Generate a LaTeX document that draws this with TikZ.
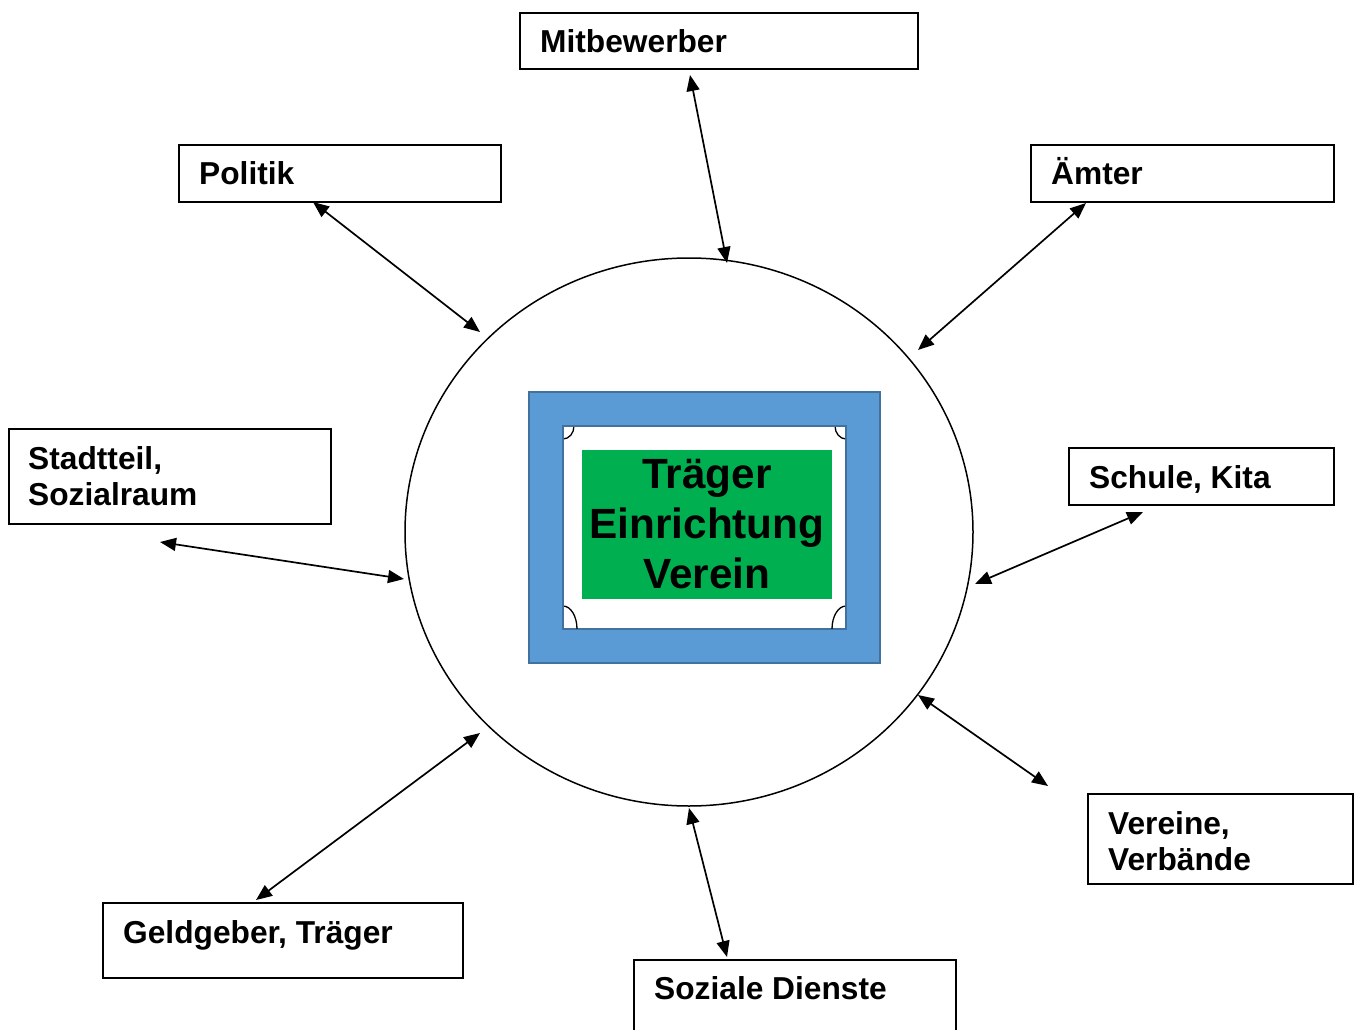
\documentclass[tikz,border=0pt]{standalone}
\usepackage{fontspec}
\setmainfont{Liberation Sans}
\usetikzlibrary{arrows.meta}
\definecolor{frameblue}{HTML}{5B9BD5}
\definecolor{frameedge}{HTML}{41719C}
\definecolor{centergreen}{HTML}{00B050}
\tikzset{
  box/.style={draw=black, line width=1.8pt, rectangle, inner sep=0pt, anchor=north west},
  lbl/.style={anchor=base west, inner sep=0pt, font=\bfseries\fontsize{31.7}{36}\selectfont, align=left},
  link/.style={line width=1.7pt, {Triangle[length=16pt,width=13pt]}-{Triangle[length=16pt,width=13pt]}},
}
\begin{document}
\begin{tikzpicture}[x=1pt,y=-1pt]
\useasboundingbox (0,0) rectangle (1361,1030);
% central circle
\draw[line width=1.5pt] (689,532) ellipse [x radius=284, y radius=274];
\node[inner sep=0pt] (circ) at (689,532) {};
% central frame
\fill[frameblue, draw=frameedge, line width=2pt] (529,392) rectangle (880,663);
\fill[white, draw=frameedge, line width=2pt] (563,426) rectangle (846,629);
\begin{scope}
\clip (564,427) rectangle (845,628);
\draw[line width=1.3pt] (563,426) ellipse [x radius=11, y radius=13];
\draw[line width=1.3pt] (846,426) ellipse [x radius=11, y radius=13];
\draw[line width=1.3pt] (563,629) ellipse [x radius=14, y radius=23];
\draw[line width=1.3pt] (846,629) ellipse [x radius=14, y radius=23];
\end{scope}
\node[fill=centergreen, minimum width=250, minimum height=149, inner sep=0pt, anchor=north west] (core) at (582,450) {};
\node[align=center, inner sep=0pt, font=\bfseries\fontsize{42.3}{50}\selectfont] (coret) at (707,524) {Träger\\Einrichtung\\Verein};
% boxes
\node[box, minimum width=398, minimum height=56] (mitb) at (519,12) {};
\node[lbl] (mitbt) at (540,53) {Mitbewerber};
\node[box, minimum width=322, minimum height=57] (pol) at (178,144) {};
\node[lbl] (polt) at (199,185) {Politik};
\node[box, minimum width=303, minimum height=57] (amt) at (1030,144) {};
\node[lbl] (amtt) at (1051,185) {Ämter};
\node[box, minimum width=322, minimum height=95] (stadt) at (8,428) {};
\node[lbl] (stadtt) at (28,505) {Stadtteil,\\Sozialraum};
\node[box, minimum width=265, minimum height=57] (schule) at (1068,447) {};
\node[lbl] (schulet) at (1089,488) {Schule, Kita};
\node[box, minimum width=265, minimum height=90] (ver) at (1087,793) {};
\node[lbl] (vert) at (1108,870) {Vereine,\\Verbände};
\node[box, minimum width=360, minimum height=75] (geld) at (102,902) {};
\node[lbl] (geldt) at (123,943) {Geldgeber, Träger};
\node[box, minimum width=322, minimum height=100] (soz) at (633,959) {};
\node[lbl] (sozt) at (654,999) {Soziale Dienste};
% connector end points
\coordinate (m1) at (690,75);   \coordinate (m2) at (727,263);
\coordinate (p1) at (313,202);  \coordinate (p2) at (480,332);
\coordinate (a1) at (1086,203); \coordinate (a2) at (918,350);
\coordinate (s1) at (160,542);  \coordinate (s2) at (404,579);
\coordinate (k1) at (1143,512); \coordinate (k2) at (975,584);
\coordinate (v1) at (918,695);  \coordinate (v2) at (1048,786);
\coordinate (g1) at (480,733);  \coordinate (g2) at (256,900);
\coordinate (d1) at (689,808);  \coordinate (d2) at (727,957);
% connectors
\draw[link] (m1) -- (m2);
\draw[link] (p1) -- (p2);
\draw[link] (a1) -- (a2);
\draw[link] (s1) -- (s2);
\draw[link] (k1) -- (k2);
\draw[link] (v1) -- (v2);
\draw[link] (g1) -- (g2);
\draw[link] (d1) -- (d2);
\end{tikzpicture}
\end{document}
